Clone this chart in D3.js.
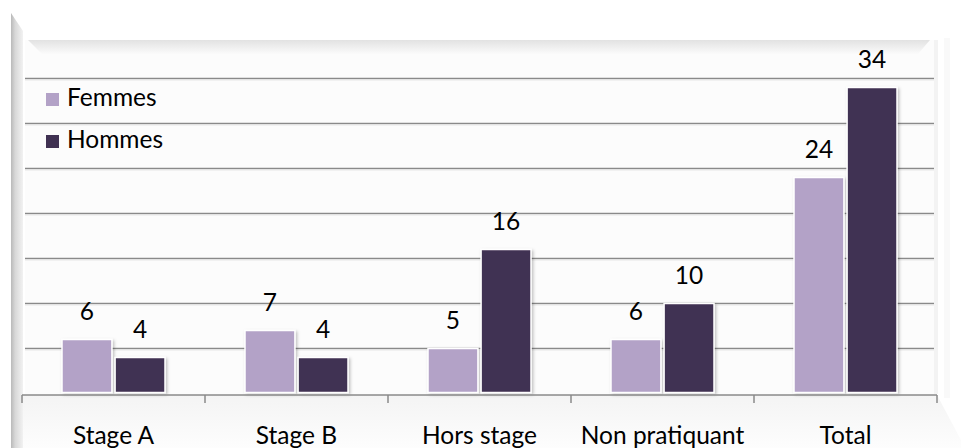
<!DOCTYPE html>
<html>
<head>
<meta charset="utf-8">
<script src="https://cdn.jsdelivr.net/npm/d3@7"></script>
<style>
  body { margin: 0; background: #fff; }
  text { font-family: Lato, "Liberation Sans", sans-serif; fill: #000; }
</style>
</head>
<body>
<script>
// données
var categories = ["Stage A", "Stage B", "Hors stage", "Non pratiquant", "Total"];
var series = ["Femmes", "Hommes"];
var femmes = [6, 7, 5, 6, 24];
var hommes = [4, 4, 16, 10, 34];
var gridTicks = [5, 10, 15, 20, 25, 30, 35];
var colors = ["#B3A2C7", "#403152"];

var W = 961, H = 448;
var fs = "24.5px";
var svg = d3.select("body").append("svg").attr("width", W).attr("height", H);
var defs = svg.append("defs");

// dégradés pour les murs
var gLeft = defs.append("linearGradient").attr("id", "gLeft").attr("x1", 0).attr("x2", 1).attr("y1", 0).attr("y2", 0);
gLeft.append("stop").attr("offset", 0).attr("stop-color", "#b9b9b9");
gLeft.append("stop").attr("offset", 0.35).attr("stop-color", "#d8d8d8");
gLeft.append("stop").attr("offset", 1).attr("stop-color", "#f2f2f2");

var gTop = defs.append("linearGradient").attr("id", "gTop").attr("x1", 0).attr("x2", 0).attr("y1", 0).attr("y2", 1);
gTop.append("stop").attr("offset", 0).attr("stop-color", "#e2e2e2");
gTop.append("stop").attr("offset", 1).attr("stop-color", "#fbfbfb");

var gFloor = defs.append("linearGradient").attr("id", "gFloor").attr("x1", 0).attr("x2", 0).attr("y1", 0).attr("y2", 1);
gFloor.append("stop").attr("offset", 0).attr("stop-color", "#f4f4f4");
gFloor.append("stop").attr("offset", 1).attr("stop-color", "#fdfdfd");

var shadow = defs.append("filter").attr("id", "shadow").attr("x", "-10%").attr("y", "-10%").attr("width", "130%").attr("height", "130%");
shadow.append("feDropShadow").attr("dx", 1.5).attr("dy", 1.5).attr("stdDeviation", 1.5)
  .attr("flood-color", "#000").attr("flood-opacity", 0.25);

// échelles
var x0 = d3.scaleBand().domain(categories).range([22, 937]).paddingInner(80 / 183).paddingOuter(40 / 183);
var x1 = d3.scaleBand().domain(series).range([0, x0.bandwidth()]).paddingInner(0.06);
var y = d3.scaleLinear().domain([0, 40]).range([393.5, 33.5]);

// sol
svg.append("polygon")
  .attr("points", "22,395 937,395 961,440 961,448 11,448")
  .style("fill", "url(#gFloor)");

// mur gauche (effet biseau)
svg.append("polygon")
  .attr("points", "11,13 23,31 23,448 11,448")
  .style("fill", "url(#gLeft)");

// mur du fond
svg.append("rect")
  .attr("x", 25).attr("y", 40).attr("width", 909).attr("height", 354)
  .style("fill", "#fcfcfc");
svg.append("rect")
  .attr("x", 934).attr("y", 40).attr("width", 4).attr("height", 354)
  .style("fill", "#f3f3f3");
svg.append("rect")
  .attr("x", 944).attr("y", 38).attr("width", 6).attr("height", 360)
  .style("fill", "#f9f9f9");

// bandeau haut
svg.append("polygon")
  .attr("points", "28,40 930,40 918,54 42,54")
  .style("fill", "url(#gTop)");

// lignes de quadrillage
svg.selectAll("line.grid").data(gridTicks).enter().append("line")
  .attr("class", "grid")
  .attr("x1", 25).attr("x2", 934)
  .attr("y1", function(d) { return y(d); })
  .attr("y2", function(d) { return y(d); })
  .attr("stroke", "#8a8a8a").attr("stroke-width", 1.5);
svg.selectAll("line.gridhl").data(gridTicks).enter().append("line")
  .attr("class", "gridhl")
  .attr("x1", 25).attr("x2", 934)
  .attr("y1", function(d) { return y(d) + 1.5; })
  .attr("y2", function(d) { return y(d) + 1.5; })
  .attr("stroke", "#e6e6e6").attr("stroke-width", 1);

// barres
var rows = categories.map(function(c, i) {
  return { cat: c, vals: [{ s: "Femmes", v: femmes[i], k: 0 }, { s: "Hommes", v: hommes[i], k: 1 }] };
});

var groups = svg.selectAll("g.cat").data(rows).enter().append("g")
  .attr("class", "cat")
  .attr("transform", function(d) { return "translate(" + x0(d.cat) + ",0)"; });

groups.selectAll("rect").data(function(d) { return d.vals; }).enter().append("rect")
  .attr("x", function(d) { return x1(d.s); })
  .attr("y", function(d) { return y(d.v); })
  .attr("width", x1.bandwidth())
  .attr("height", function(d) { return y(0) - y(d.v) - 1; })
  .style("fill", function(d) { return colors[d.k]; })
  .attr("stroke", "#fff").attr("stroke-width", 1.5)
  .attr("filter", "url(#shadow)");

groups.selectAll("text").data(function(d) { return d.vals; }).enter().append("text")
  .attr("x", function(d) { return x1(d.s) + x1.bandwidth() / 2; })
  .attr("y", function(d) { return y(d.v) - 20; })
  .attr("text-anchor", "middle")
  .style("font-size", fs)
  .text(function(d) { return d.v; });

// axe horizontal
var xAxisScale = d3.scalePoint().domain(d3.range(categories.length + 1)).range([22, 937]);
svg.append("line")
  .attr("x1", 22).attr("x2", 937).attr("y1", 395).attr("y2", 395)
  .attr("stroke", "#8a8a8a").attr("stroke-width", 1.5);
svg.selectAll("line.tick").data(d3.range(categories.length + 1)).enter().append("line")
  .attr("class", "tick")
  .attr("x1", function(d) { return xAxisScale(d); })
  .attr("x2", function(d) { return xAxisScale(d); })
  .attr("y1", 395).attr("y2", 403)
  .attr("stroke", "#8a8a8a").attr("stroke-width", 1.5);

svg.selectAll("text.catlab").data(categories).enter().append("text")
  .attr("class", "catlab")
  .attr("x", function(d) { return x0(d) + x0.bandwidth() / 2; })
  .attr("y", 444)
  .attr("text-anchor", "middle")
  .style("font-size", fs)
  .text(function(d) { return d; });

// légende
var legend = svg.selectAll("g.leg").data(series).enter().append("g")
  .attr("class", "leg")
  .attr("transform", function(d, i) { return "translate(46," + (93 + i * 42) + ")"; });
legend.append("rect")
  .attr("width", 13).attr("height", 13)
  .style("fill", function(d, i) { return colors[i]; });
legend.append("text")
  .attr("x", 21).attr("y", 13)
  .style("font-size", fs)
  .text(function(d) { return d; });
</script>
</body>
</html>
